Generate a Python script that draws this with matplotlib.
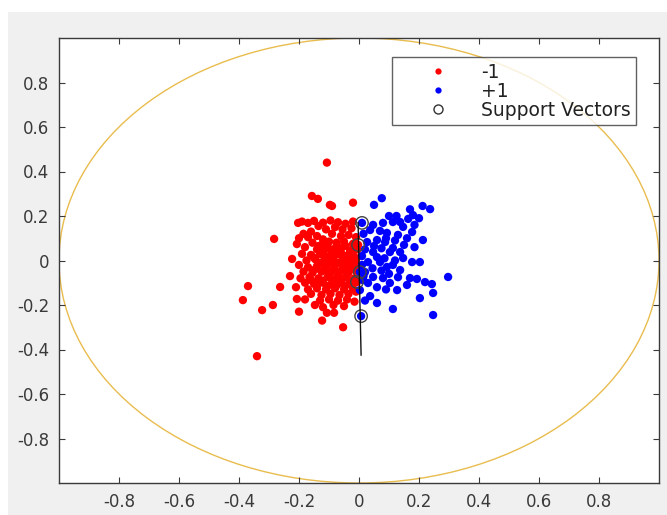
import matplotlib
matplotlib.use('Agg')
import matplotlib.pyplot as plt
from matplotlib.patches import Circle, Rectangle
from matplotlib.lines import Line2D

# class -1 (red)
neg_x = [-0.107, -0.157, -0.137, -0.097, -0.02, -0.283, -0.37, -0.387, -0.323, -0.287,
         -0.2, -0.34, -0.123, -0.107, -0.083, -0.053, -0.147, -0.223, -0.207, -0.263,
         -0.207, -0.09, -0.203, -0.17,
         -0.19, -0.15, -0.12, -0.095, -0.07, -0.045, -0.02, -0.135, -0.08, -0.11,
         -0.055, -0.025, -0.16, -0.185,
         -0.2, -0.17, -0.14, -0.12, -0.09, -0.06, -0.035, -0.01, -0.155, -0.125,
         -0.1, -0.075, -0.05, -0.02, -0.18, -0.14, -0.11, -0.085, -0.06, -0.03, -0.005,
         -0.19, -0.16, -0.13, -0.1, -0.07, -0.045, -0.02, -0.175, -0.145, -0.115,
         -0.085, -0.055, -0.03, -0.008,
         -0.2, -0.17, -0.14, -0.11, -0.08, -0.05, -0.02, -0.185, -0.155, -0.125,
         -0.095, -0.065, -0.035, -0.01,
         -0.23, -0.195, -0.165, -0.135, -0.105, -0.075, -0.045, -0.015, -0.18, -0.15,
         -0.12, -0.09, -0.06, -0.03,
         -0.21, -0.17, -0.14, -0.11, -0.08, -0.05, -0.02, -0.16, -0.125, -0.095,
         -0.065, -0.035, -0.01,
         -0.18, -0.13, -0.1, -0.07, -0.04, -0.015, -0.085, -0.05, -0.12,
         -0.003, -0.007,
         # dense core
         -0.135, -0.105, -0.075, -0.045, -0.015, -0.12, -0.09, -0.06, -0.03, -0.15,
         -0.115, -0.085, -0.055, -0.025, -0.13, -0.1, -0.07, -0.04, -0.01, -0.145,
         -0.115, -0.085, -0.055, -0.025, -0.1, -0.07, -0.04, -0.16, -0.125, -0.09,
         -0.06, -0.03, -0.14, -0.105, -0.075, -0.045]
neg_y = [0.44, 0.29, 0.277, 0.25, 0.26, 0.097, -0.115, -0.178, -0.223, -0.2,
         -0.23, -0.43, -0.27, -0.235, -0.235, -0.3, -0.2, 0.007, 0.074, -0.119,
         -0.173, 0.245, 0.169, 0.169,
         0.175, 0.178, 0.17, 0.18, 0.172, 0.165, 0.175, 0.155, 0.15, 0.14,
         0.14, 0.145, 0.13, 0.12,
         0.1, 0.105, 0.11, 0.095, 0.12, 0.11, 0.115, 0.105, 0.08, 0.07,
         0.085, 0.08, 0.085, 0.075, 0.06, 0.05, 0.055, 0.05, 0.055, 0.045, 0.05,
         0.03, 0.025, 0.03, 0.02, 0.03, 0.02, 0.025, 0.0, 0.005, 0.0,
         0.005, 0.0, -0.005, 0.01,
         -0.02, -0.03, -0.025, -0.03, -0.02, -0.03, -0.025, -0.05, -0.055, -0.05,
         -0.055, -0.05, -0.055, -0.045,
         -0.07, -0.08, -0.075, -0.08, -0.075, -0.08, -0.075, -0.08, -0.1, -0.105,
         -0.1, -0.105, -0.1, -0.105,
         -0.12, -0.13, -0.125, -0.13, -0.125, -0.13, -0.125, -0.15, -0.155, -0.15,
         -0.155, -0.15, -0.14,
         -0.175, -0.18, -0.175, -0.18, -0.175, -0.185, -0.2, -0.205, -0.21,
         0.07, -0.097,
         0.065, 0.068, 0.063, 0.066, 0.062, 0.038, 0.04, 0.036, 0.035, 0.012,
         0.013, 0.015, 0.012, 0.014, -0.012, -0.01, -0.012, -0.013, -0.015, -0.038,
         -0.04, -0.038, -0.04, -0.037, -0.062, -0.065, -0.062, -0.088, -0.09, -0.087,
         -0.088, -0.09, -0.113, -0.115, -0.112, -0.113]

# class +1 (blue)
pos_x = [0.076, 0.05, 0.212, 0.237, 0.17, 0.18, 0.164, 0.137, 0.113, 0.147,
         0.08, 0.047, 0.01, 0.037, 0.07, 0.093, 0.13, 0.177, 0.213, 0.027,
         0.06, 0.087, 0.113, 0.137, 0.103, 0.047, 0.147, 0.177, 0.203, 0.03,
         0.07, 0.093, 0.113, 0.137, 0.17, 0.193, 0.22, 0.243, 0.297, 0.02,
         0.047, 0.08, 0.103, 0.127, 0.03, 0.247, 0.203, 0.037, 0.06, 0.113,
         0.247, 0.003, 0.007, 0.013, 0.003,
         0.015, 0.02, 0.01, 0.05, 0.075, 0.09, 0.12, 0.15, 0.16, 0.185,
         0.06, 0.085, 0.12, 0.01, 0.045, 0.075, 0.1, 0.13, 0.16, 0.015,
         0.06, 0.09, 0.02, 0.185, 0.2, 0.1, 0.125]
pos_y = [0.28, 0.25, 0.245, 0.231, 0.23, 0.204, 0.187, 0.173, 0.173, 0.151,
         0.169, 0.16, 0.169, 0.137, 0.133, 0.124, 0.115, 0.128, 0.092, 0.083,
         0.092, 0.083, 0.056, 0.038, 0.038, 0.038, 0.011, -0.007, -0.007, -0.007,
         -0.007, -0.029, -0.02, -0.043, -0.079, -0.083, -0.097, -0.106, -0.074, -0.052,
         -0.074, -0.079, -0.101, -0.133, -0.101, -0.146, -0.169, -0.16, -0.191, -0.218,
         -0.245, -0.133, -0.25, -0.088, -0.052,
         0.12, 0.05, 0.02, 0.065, 0.055, 0.1, 0.09, 0.07, 0.1, 0.06,
         0.015, 0.01, 0.0, -0.02, -0.035, -0.045, -0.06, -0.075, -0.11, -0.07,
         -0.12, -0.13, -0.18, 0.16, 0.19, 0.2, 0.2]

# support vectors
sv_x = [0.01, -0.003, 0.003, -0.007, 0.007]
sv_y = [0.169, 0.07, -0.052, -0.097, -0.25]

# decision boundary
boundary_x = [-0.003, 0.007]
boundary_y = [0.17, -0.425]

ticks = [-0.8, -0.6, -0.4, -0.2, 0, 0.2, 0.4, 0.6, 0.8]
tick_labels = ['-0.8', '-0.6', '-0.4', '-0.2', '0', '0.2', '0.4', '0.6', '0.8']

plt.rcParams['font.family'] = ['DejaVu Sans']
axis_col = '#3a3a3a'

fig = plt.figure(figsize=(6.67, 5.15), dpi=100)
fig.patch.set_facecolor('white')
# MATLAB gray figure background, offset from the top-left corner
fig.patches.append(Rectangle((8 / 667, 0), 1, 503 / 515, transform=fig.transFigure,
                             facecolor='#f0f0f0', edgecolor='none', zorder=-10))

ax = fig.add_axes([59 / 667, 32 / 515, 600 / 667, 445 / 515])
ax.set_zorder(5)
ax.set_facecolor('white')

ax.add_patch(Circle((0, 0), 1, fill=False, edgecolor='#E9BC4E', linewidth=1.0, zorder=1))
ax.scatter(neg_x, neg_y, s=36, c='#ff0000', edgecolors='none', zorder=2)
ax.scatter(pos_x, pos_y, s=36, c='#0000ff', edgecolors='none', zorder=2)
ax.scatter(sv_x, sv_y, s=80, facecolors='none', edgecolors='#444444', linewidths=1.0, zorder=3)
ax.plot(boundary_x, boundary_y, color='#111111', linewidth=1.0, zorder=3)

ax.set_xlim(-1, 1)
ax.set_ylim(-1, 1)
ax.set_xticks(ticks)
ax.set_xticklabels(tick_labels)
ax.set_yticks(ticks)
ax.set_yticklabels(tick_labels)
ax.tick_params(direction='in', length=4, width=0.8, colors=axis_col, labelsize=12,
               top=True, right=True, pad=7)
for sp in ax.spines.values():
    sp.set_color(axis_col)
    sp.set_linewidth(1.0)

handles = [
    Line2D([], [], linestyle='none', marker='o', markersize=4.5, markerfacecolor='#ff0000',
           markeredgecolor='none'),
    Line2D([], [], linestyle='none', marker='o', markersize=4.5, markerfacecolor='#0000ff',
           markeredgecolor='none'),
    Line2D([], [], linestyle='none', marker='o', markersize=6.5, markerfacecolor='none',
           markeredgecolor='#333333', markeredgewidth=1.0),
]
leg = ax.legend(handles, ['-1', '+1', 'Support Vectors'], loc='upper right',
                bbox_to_anchor=(0.962, 0.957), fontsize=13.5, frameon=True, fancybox=False,
                handlelength=4.3, handletextpad=0.15, labelspacing=0.0, borderpad=0.3,
                borderaxespad=0)
leg.get_frame().set_edgecolor(axis_col)
leg.get_frame().set_linewidth(1.0)
for t in leg.get_texts():
    t.set_color('#222222')

plt.savefig('out.png', dpi=100)
